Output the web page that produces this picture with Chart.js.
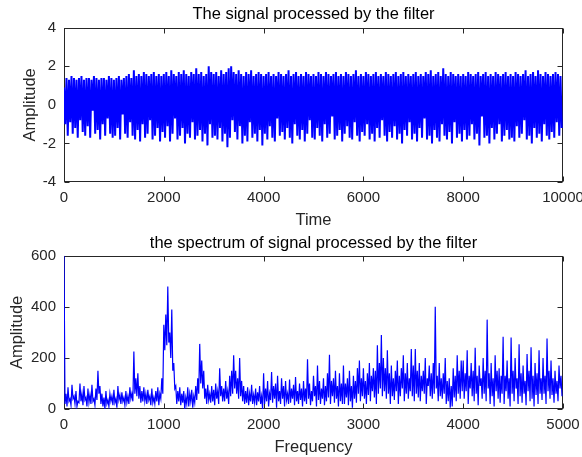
<!DOCTYPE html>
<html>
<head>
<meta charset="utf-8">
<script src="https://cdn.jsdelivr.net/npm/chart.js@4/dist/chart.umd.min.js"></script>
<style>
  body { margin: 0; background: #fff; }
  #wrap { position: relative; width: 582px; height: 457px; }
  canvas { position: absolute; left: 0; }
</style>
</head>
<body>
<div id="wrap">
  <canvas id="signalChart" width="582" height="230" style="top:0"></canvas>
  <canvas id="spectrumChart" width="582" height="227" style="top:230px"></canvas>
</div>
<script>
// filtered signal: one peak and one trough for every 50-sample block
const signalStep = 50;
const signalPeaks = [
  0.9,1.4,1.3,1.5,1.4,1.3,1.4,1.5,1.3,1.4,1.4,1.3,1.5,1.4,1.3,1.4,1.4,1.3,1.5,1.4,
  1.3,1.4,1.5,1.3,1.4,1.5,1.6,1.4,1.8,1.5,1.6,1.5,1.7,1.6,1.5,1.6,1.7,1.5,1.6,1.5,
  1.6,1.7,1.5,1.8,1.6,1.5,1.7,1.6,1.8,1.6,1.5,1.7,1.6,1.9,1.6,1.7,1.5,1.6,2.0,1.7,
  1.6,1.7,1.5,1.8,1.6,1.7,1.9,2.0,1.7,1.6,1.8,1.6,1.5,1.7,1.6,1.8,1.5,1.6,1.7,1.6,
  1.5,1.6,1.7,1.5,1.6,1.5,1.7,1.6,1.5,1.6,1.8,1.5,1.6,1.7,1.5,1.6,1.5,1.7,1.6,1.5,
  1.6,1.5,1.7,1.6,1.5,1.7,1.6,1.5,1.6,1.7,1.5,1.6,1.5,1.7,1.6,1.5,1.6,1.8,1.5,1.6,
  1.5,1.7,1.6,1.5,1.6,1.7,1.5,1.6,1.5,1.7,1.6,1.5,1.6,1.7,1.5,1.6,1.7,1.5,1.6,1.5,
  1.6,1.7,1.5,1.6,1.5,1.7,1.6,1.8,1.5,1.6,1.7,1.5,1.9,1.6,1.5,1.7,1.6,1.5,1.6,1.5,
  1.6,1.5,1.7,1.6,1.5,1.6,1.7,1.5,1.6,1.7,1.5,1.6,1.5,1.7,1.6,1.5,1.6,1.7,1.5,1.6,
  1.5,1.7,1.6,1.5,1.6,1.8,1.5,1.6,1.7,1.5,1.8,1.6,1.5,1.7,1.6,1.5,1.6,1.7,1.6,1.5
];
const signalTroughs = [
  -1.0,-1.6,-0.9,-1.5,-1.2,-1.7,-0.8,-1.4,-1.6,-1.1,-1.7,-0.3,-1.5,-1.3,-1.8,-1.0,-1.6,-0.7,-1.5,-1.7,
  -1.6,-1.2,-1.8,-0.5,-1.5,-1.7,-0.9,-1.6,-1.8,-1.3,-1.9,-1.0,-1.7,-1.5,-0.8,-1.8,-1.6,-1.2,-1.9,-1.4,
  -1.7,-1.1,-1.9,-1.5,-0.7,-1.8,-1.6,-1.2,-2.0,-1.5,-1.7,-0.9,-1.8,-1.6,-1.3,-1.9,-1.5,-2.1,-1.0,-1.7,
  -1.6,-1.8,-1.2,-1.9,-1.5,-2.2,-1.7,-0.8,-1.4,-1.8,-1.1,-2.0,-1.6,-1.9,-0.9,-1.7,-1.5,-1.9,-1.3,-2.1,
  -1.5,-1.8,-1.1,-1.7,-1.9,-0.7,-1.6,-1.4,-1.8,-1.2,-1.7,-2.0,-1.0,-1.6,-1.8,-1.3,-1.9,-1.5,-0.8,-1.7,
  -1.8,-1.2,-1.6,-1.9,-1.0,-1.7,-1.5,-0.6,-1.8,-1.6,-1.3,-1.9,-1.5,-1.1,-1.7,-1.8,-0.9,-1.6,-1.9,-1.4,
  -1.6,-1.0,-1.8,-1.5,-1.9,-1.2,-1.7,-0.8,-1.6,-1.9,-1.4,-1.7,-1.1,-1.8,-1.5,-2.0,-1.3,-1.6,-0.9,-1.8,
  -1.5,-1.9,-1.2,-1.7,-0.7,-1.8,-1.6,-2.0,-1.3,-1.7,-1.9,-1.0,-1.6,-1.8,-1.4,-2.0,-0.9,-1.7,-1.5,-1.9,
  -1.3,-1.8,-1.6,-1.0,-1.8,-1.5,-2.1,-0.6,-1.7,-1.6,-2.0,-1.2,-1.8,-1.5,-1.0,-1.9,-1.6,-1.3,-1.8,-1.7,
  -1.9,-1.1,-1.7,-1.5,-0.8,-1.8,-1.6,-2.0,-1.2,-1.7,-1.5,-1.9,-1.0,-1.6,-1.8,-1.4,-1.7,-0.9,-1.6,-1.2
];
const timeTicks = [0, 2000, 4000, 6000, 8000, 10000];
const signalTicks = [-4, -2, 0, 2, 4];

// amplitude spectrum: one peak and one trough for every 20 Hz band
const specStep = 20;
const specPeaks = [
  600, 60, 85, 40, 95, 50, 70, 30, 100, 60, 90, 45, 80, 55, 95, 40, 80, 150, 90, 60,
  45, 70, 35, 60, 50, 75, 40, 90, 55, 65, 45, 70, 50, 85, 60, 225, 120, 140, 90, 70,
  85, 60, 75, 50, 80, 45, 70, 85, 60, 120, 330, 370, 480, 300, 390, 180, 90, 70, 85, 60,
  70, 45, 85, 60, 75, 50, 90, 120, 255, 190, 150, 80, 95, 60, 90, 75, 100, 70, 160, 90,
  80, 110, 70, 130, 150, 210, 150, 120, 200, 110, 90, 70, 85, 60, 95, 55, 80, 65, 90, 50,
  140, 80, 110, 60, 145, 90, 100, 130, 70, 120, 90, 110, 60, 115, 80, 95, 125, 70, 100, 80,
  110, 80, 195, 100, 70, 130, 90, 170, 110, 80, 120, 90, 140, 212, 110, 120, 150, 90, 140, 100,
  170, 100, 120, 150, 90, 130, 110, 160, 190, 120, 160, 110, 140, 180, 130, 160, 150, 250, 180, 290,
  200, 160, 230, 140, 170, 120, 150, 190, 130, 160, 210, 140, 180, 120, 235, 170, 235, 150, 180, 130,
  150, 200, 120, 170, 140, 180, 400, 130, 180, 120, 140, 200, 110, 120, 90, 160, 130, 210, 150, 190,
  190, 140, 230, 130, 180, 150, 240, 130, 170, 120, 200, 150, 350, 140, 180, 120, 210, 150, 160, 130,
  283, 130, 190, 120, 280, 150, 200, 120, 254, 140, 170, 110, 215, 150, 242, 130, 180, 140, 230, 120,
  200, 130, 276, 150, 190, 120, 150, 110, 170, 130
];
const specTroughs = [
  20, 10, 30, 15, 40, 20, 10, 25, 30, 15, 35, 10, 25, 20, 30, 15, 35, 60, 20, 10,
  0, 20, 10, 30, 15, 25, 5, 35, 20, 30, 15, 25, 20, 40, 30, 60, 50, 40, 25, 30,
  30, 20, 35, 15, 25, 20, 30, 15, 40, 60, 230, 250, 260, 200, 150, 80, 20, 30, 15, 25,
  0, 20, 10, 30, 5, 25, 35, 60, 100, 80, 40, 20, 35, 25, 30, 15, 40, 20, 50, 30,
  30, 40, 20, 50, 60, 80, 60, 40, 50, 30, 20, 25, 15, 30, 20, 25, 15, 30, 20, 0,
  20, 30, 10, 35, 25, 40, 5, 30, 20, 40, 10, 35, 20, 25, 40, 15, 30, 20, 35, 10,
  30, 20, 40, 15, 30, 50, 10, 35, 20, 40, 15, 30, 45, 20, 50, 25, 40, 10, 30, 20,
  20, 45, 15, 30, 5, 40, 25, 60, 30, 50, 40, 20, 55, 30, 70, 45, 20, 60, 80, 50,
  70, 40, 60, 20, 50, 35, 70, 20, 50, 80, 30, 60, 40, 70, 50, 30, 60, 45, 30, 70,
  60, 20, 90, 50, 40, 60, 80, 30, 50, 40, 60, 20, 30, 5, 10, 45, 30, 60, 40, 70,
  40, 70, 20, 80, 50, 30, 60, 15, 90, 40, 60, 30, 80, 20, 50, 10, 70, 40, 25, 60,
  20, 70, 40, 10, 60, 30, 80, 20, 50, 25, 60, 15, 70, 30, 40, 10, 55, 20, 60, 35,
  60, 20, 70, 40, 55, 25, 60, 30, 80, 50
];
const freqTicks = [0, 1000, 2000, 3000, 4000, 5000];
const specTicks = [0, 200, 400, 600];

const axisColor = "#262626";
const lineBlue = "#0000ff";
Chart.defaults.font.family = "'Liberation Sans', Arial, sans-serif";
Chart.defaults.color = axisColor;

// interleave block peaks and troughs into one trace
function zigzag(peaks, troughs, step) {
  const pts = [];
  peaks.forEach((p, i) => {
    pts.push({ x: i * step, y: p });
    pts.push({ x: i * step + step / 2, y: troughs[i] });
  });
  return pts;
}

// closed box with inward tick marks on all four sides
const boxPlugin = {
  id: "axesBox",
  beforeDatasetsDraw(chart) {
    const { ctx, chartArea: a, scales } = chart;
    const l = Math.round(a.left) + 0.5, r = Math.round(a.right) - 0.5;
    const t = Math.round(a.top) + 0.5, b = Math.round(a.bottom) - 0.5;
    ctx.save();
    ctx.strokeStyle = axisColor;
    ctx.lineWidth = 1;
    ctx.strokeRect(l, t, r - l, b - t);
    ctx.beginPath();
    scales.x.ticks.forEach(tk => {
      const px = Math.round(scales.x.getPixelForValue(tk.value)) + 0.5;
      ctx.moveTo(px, b); ctx.lineTo(px, b - 5);
      ctx.moveTo(px, t); ctx.lineTo(px, t + 5);
    });
    scales.y.ticks.forEach(tk => {
      const py = Math.round(scales.y.getPixelForValue(tk.value)) + 0.5;
      ctx.moveTo(l, py); ctx.lineTo(l + 5, py);
      ctx.moveTo(r, py); ctx.lineTo(r - 5, py);
    });
    ctx.stroke();
    ctx.restore();
  }
};

function makeChart(id, cfg) {
  return new Chart(document.getElementById(id), {
    type: "line",
    data: {
      datasets: [{
        data: cfg.points,
        borderColor: lineBlue,
        borderWidth: cfg.lineWidth,
        // a one-entry dash keeps every vertex (no per-pixel merging)
        borderDash: [1000, 0],
        pointRadius: 0,
        tension: 0,
        fill: false
      }]
    },
    options: {
      responsive: false,
      animation: false,
      events: [],
      layout: { padding: { left: 0, right: 19, top: 0, bottom: 0 } },
      plugins: {
        legend: { display: false },
        tooltip: { enabled: false },
        title: {
          display: true,
          text: cfg.title,
          fullSize: false,
          color: "#000",
          font: { size: 16.5, weight: "normal" },
          padding: cfg.titlePad
        }
      },
      scales: {
        x: {
          type: "linear",
          min: cfg.xTicks[0],
          max: cfg.xTicks[cfg.xTicks.length - 1],
          grid: { display: false, drawTicks: false },
          border: { display: false },
          ticks: { padding: 7, maxRotation: 0, autoSkip: false, font: { size: 15 }, callback: v => String(v) },
          afterBuildTicks: s => { s.ticks = cfg.xTicks.map(v => ({ value: v })); },
          afterFit: s => { s.height = 48; s.paddingLeft = 0; s.paddingRight = 0; },
          title: { display: true, text: cfg.xLabel, font: { size: 16.5 }, padding: { top: 0, bottom: 0 } }
        },
        y: {
          min: cfg.yTicks[0],
          max: cfg.yTicks[cfg.yTicks.length - 1],
          grid: { display: false, drawTicks: false },
          border: { display: false },
          ticks: { padding: 8, autoSkip: false, font: { size: 15 }, callback: v => String(v) },
          afterBuildTicks: s => { s.ticks = cfg.yTicks.map(v => ({ value: v })); },
          afterFit: s => { s.width = 64; s.paddingTop = 0; s.paddingBottom = 0; },
          title: { display: true, text: "Amplitude", font: { size: 16.5 }, padding: { top: cfg.yTitleGap, bottom: 0 } }
        }
      }
    },
    plugins: [boxPlugin]
  });
}

makeChart("signalChart", {
  points: zigzag(signalPeaks, signalTroughs, signalStep),
  lineWidth: 2,
  title: "The signal processed by the filter",
  titlePad: { top: 5, bottom: 3 },
  xLabel: "Time",
  xTicks: timeTicks,
  yTicks: signalTicks,
  yTitleGap: 21
});

makeChart("spectrumChart", {
  points: zigzag(specPeaks, specTroughs, specStep),
  lineWidth: 1.2,
  title: "the spectrum of signal processed by the filter",
  titlePad: { top: 4, bottom: 2 },
  xLabel: "Frequency",
  xTicks: freqTicks,
  yTicks: specTicks,
  yTitleGap: 8
});
</script>
</body>
</html>
